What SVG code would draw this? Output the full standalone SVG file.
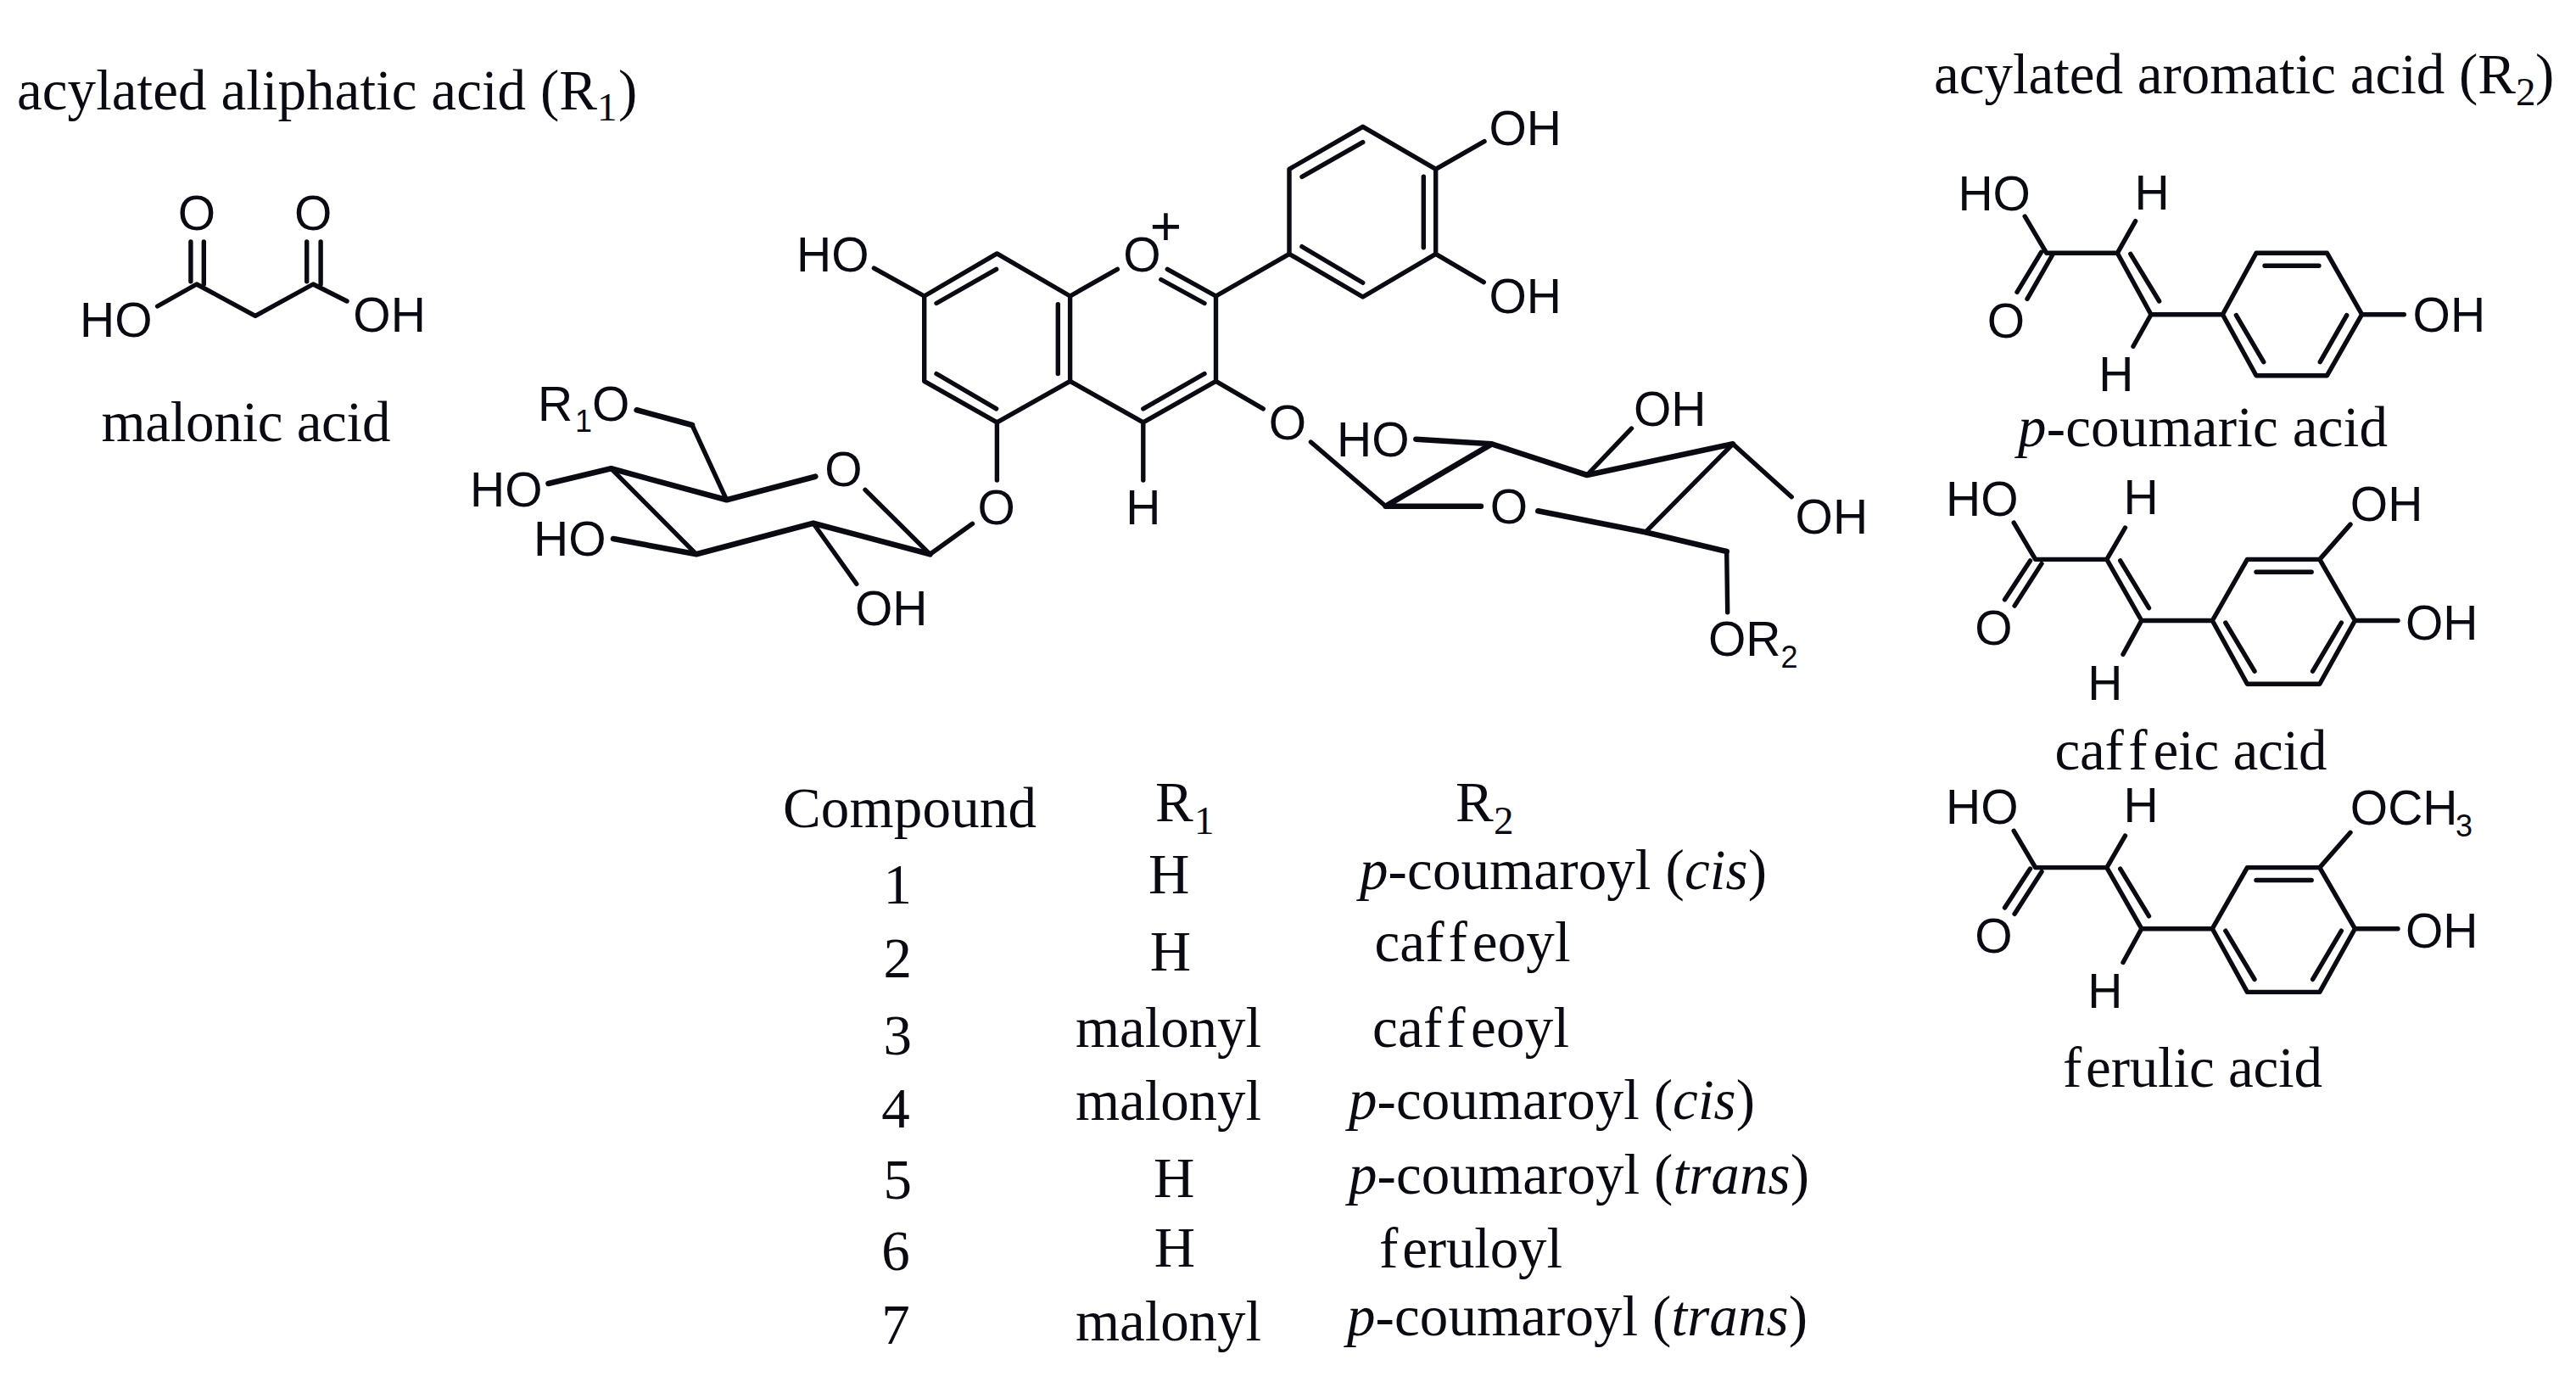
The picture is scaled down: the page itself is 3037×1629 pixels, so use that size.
<svg xmlns="http://www.w3.org/2000/svg" width="3037" height="1629" viewBox="0 0 3037 1629">
<style>
.b{fill:none;stroke:#0a0a12;stroke-width:5.4;stroke-linecap:round;stroke-linejoin:round}
.k{fill:none;stroke:#0a0a12;stroke-width:6.6;stroke-linecap:round;stroke-linejoin:round}
.a{font-family:"Liberation Sans",Arial,sans-serif;font-size:57px;fill:#0a0a12}
.as{font-family:"Liberation Sans",Arial,sans-serif;font-size:36px;fill:#0a0a12}
.am{font-family:"Liberation Sans",Arial,sans-serif;font-size:57px;fill:#0a0a12;text-anchor:middle}
.t{font-family:"Liberation Serif","Times New Roman",serif;font-size:67px;fill:#0a0a12;font-variant-ligatures:none}
.tm{font-family:"Liberation Serif","Times New Roman",serif;font-size:67px;fill:#0a0a12;text-anchor:middle}
.ts{font-family:"Liberation Serif","Times New Roman",serif;font-size:47px;fill:#0a0a12}
.i{font-style:italic}
</style>
<rect width="3037" height="1629" fill="#ffffff"/>

<g id="connectors">
<g id="bonds-core">
<path class="b" d="M1089.7 349L1175.4 298.9L1261.6 349L1261.6 449.3L1175.4 497.9L1089.7 449.3Z"/>
<path class="b" d="M1030.4 316.1L1089.7 349M1104 357.5L1174.6 317.3M1247.3 358.6V440.5M1104 440.5L1174.6 481.8"/>
<path class="b" d="M1261.6 349L1317.4 317.3M1376.3 317.3L1433.5 349L1520 299.3M1368.8 329.5L1420 357.5M1433.5 349V449.3L1347.8 497.9L1261.6 449.3M1347.8 481.8L1420 440.5M1433.5 449.3L1489.3 481.8M1175.4 497.9V566M1347.8 497.9V566"/>
<path class="b" d="M1520 199.3L1606.7 149.3L1692.7 199.3V299.3L1606.7 350L1520 299.3ZM1535 208.3L1606.7 167.7M1535 290.7L1606.7 333.3M1678.3 208.3V291.7M1692.7 199.3L1750 166.7M1692.7 299.3L1749.3 332.7"/>
</g>
<g id="bonds-sugar-left">
<path class="k" d="M750.6 483.3L816 501M646.5 570L720.5 552.3L856.7 589.3L961.3 561.7M723 635L821 653.3L958.8 616.7L1096.5 653.3"/>
<path class="b" d="M816 501L856.7 589.3M720.5 552.3L821 653.3M958.8 616.7L1009.8 688.3M1020 577.3L1096.5 653.3L1146.5 617.3"/>
</g>
<g id="bonds-sugar-right">
<path class="k" d="M1745.9 596.7H1633.7L1758.7 523.3L1871 560L2042.9 523.3M1669.4 517.7L1758.7 523.3M1813.3 602.3L1939.8 627.3L2035.7 650"/>
<path class="b" d="M1545.4 521L1633.7 596.7M1871 560L1923.5 505M2042.9 523.3L2112.2 585.7M2042.9 523.3L1939.8 627.3M2035.7 650L2036.7 721.7"/>
</g>
<g id="bonds-malonic">
<path class="b" d="M224.9 285V331.7M240.3 285V335M361.7 285V331.7M378.1 285V335M185.6 361L231.8 335L301 372.3L369.2 335L409 355"/>
</g>
<g id="bonds-coumaric">
<path class="b" d="M2387.2 255L2412.8 298.3H2496.3L2517.6 260.7M2496.3 298.3L2536 370.7H2620.4M2511.8 299.3L2545.6 355M2406.5 297.3L2378 344.3M2420 300L2390 352.3M2536 370.7L2515 408.3M2620.4 370.7L2660 298.3H2743.5L2784.6 370.7L2743.5 442.7H2660ZM2670 313.3H2733.9M2636.4 371.7L2668.7 426.7M2766.7 371.7L2735.3 426.7M2784.6 370.7H2834.3"/>
</g>
<g id="bonds-caffeic">
<path class="b" d="M2374.2 616.1L2399.7 659.4H2483.8L2505.5 622M2483.8 659.4L2524.8 731.5H2608.3M2499.7 660.9L2533.5 716.6M2393.5 660.9L2363.5 706.7M2407 664.4L2375.1 714.1M2524.8 731.5L2503 771.3M2608.3 731.5L2649.4 659.4H2734.8L2776.4 731.5L2734.8 806.2H2649.4ZM2660 674.3H2725.2M2623.8 734L2658 791.2M2760.4 734L2726.6 791.2M2734.8 659.4L2771 618.1M2776.4 731.5H2827"/>
</g>
<g id="bonds-ferulic" transform="translate(0 363.2)">
<path class="b" d="M2374.2 616.1L2399.7 659.4H2483.8L2505.5 622M2483.8 659.4L2524.8 731.5H2608.3M2499.7 660.9L2533.5 716.6M2393.5 660.9L2363.5 706.7M2407 664.4L2375.1 714.1M2524.8 731.5L2503 771.3M2608.3 731.5L2649.4 659.4H2734.8L2776.4 731.5L2734.8 806.2H2649.4ZM2660 674.3H2725.2M2623.8 734L2658 791.2M2760.4 734L2726.6 791.2M2734.8 659.4L2771 618.1M2776.4 731.5H2827"/>
</g>
</g>

<g id="node-core">
<text class="a" x="939" y="320">HO</text>
<text class="am" x="1346.4" y="320">O</text>
<text class="am" x="1374.5" y="289" style="font-size:64px">+</text>
<text class="a" x="1755.5" y="170.7">OH</text>
<text class="a" x="1755.5" y="369.3">OH</text>
<text class="am" x="1518" y="518">O</text>
<text class="am" x="1174.6" y="618">O</text>
<text class="am" x="1347.8" y="617.7">H</text>
</g>

<g id="node-sugar-left">
<text class="a" x="634" y="496">R</text><text class="as" x="678" y="509">1</text><text class="a" x="698" y="496">O</text>
<text class="a" x="554" y="596.7">HO</text>
<text class="a" x="629" y="655">HO</text>
<text class="a" x="1008" y="736.7">OH</text>
<text class="am" x="994.5" y="573">O</text>
</g>

<g id="node-sugar-right">
<text class="a" x="1576" y="537.7">HO</text>
<text class="a" x="1926" y="501.7">OH</text>
<text class="a" x="2116.6" y="629">OH</text>
<text class="am" x="1779" y="616.5">O</text>
<text class="a" x="2014" y="772.7">OR</text><text class="as" x="2099.5" y="786.7">2</text>
</g>

<g id="node-malonic">
<text class="t" x="20" y="129" textLength="684" lengthAdjust="spacing">acylated aliphatic acid (R</text>
<text class="ts" x="704" y="142">1</text>
<text class="t" x="729" y="129">)</text>
<text class="am" x="231.8" y="271">O</text>
<text class="am" x="369.2" y="271">O</text>
<text class="a" x="94" y="397.3">HO</text>
<text class="a" x="416.3" y="391">OH</text>
<text class="t" x="119.4" y="520" textLength="341" lengthAdjust="spacing">malonic acid</text>
</g>

<g id="node-coumaric">
<text class="t" x="2280" y="110" textLength="686" lengthAdjust="spacing">acylated aromatic acid (R</text>
<text class="ts" x="2966" y="124">2</text>
<text class="t" x="2989" y="110">)</text>
<text class="a" x="2308.4" y="248">HO</text>
<text class="am" x="2537" y="246.7">H</text>
<text class="am" x="2365" y="398.3">O</text>
<text class="am" x="2494.9" y="460.7">H</text>
<text class="a" x="2844.6" y="390.7">OH</text>
<text class="t" x="2379" y="526" textLength="436" lengthAdjust="spacing"><tspan class="i">p</tspan>-coumaric acid</text>
</g>

<g id="node-caffeic">
<text class="a" x="2294" y="608">HO</text>
<text class="am" x="2524" y="606">H</text>
<text class="am" x="2350.5" y="760">O</text>
<text class="am" x="2481.8" y="824.6">H</text>
<text class="a" x="2770.8" y="613.6">OH</text>
<text class="a" x="2836" y="753.9">OH</text>
<text class="t" x="2422.4" y="907" textLength="321" lengthAdjust="spacing">caf<tspan dx="7">f</tspan><tspan dx="7">eic</tspan> acid</text>
</g>

<g id="node-ferulic">
<text class="a" x="2294" y="971.2">HO</text>
<text class="am" x="2524" y="969.2">H</text>
<text class="am" x="2350.5" y="1123.2">O</text>
<text class="am" x="2481.8" y="1187.8">H</text>
<text class="a" x="2770.8" y="971.8">OCH</text><text class="as" x="2895" y="986">3</text>
<text class="a" x="2836" y="1117.1">OH</text>
<text class="t" x="2432" y="1281" textLength="306" lengthAdjust="spacing">f<tspan dx="5">erulic</tspan> acid</text>
</g>

<g id="node-table">
<text class="t" x="923" y="975" textLength="299" lengthAdjust="spacing">Compound</text>
<text class="t" x="1362" y="968">R</text><text class="ts" x="1408" y="982.6">1</text>
<text class="t" x="1716" y="968">R</text><text class="ts" x="1761" y="982.6">2</text>
<text class="tm" x="1058.3" y="1065.3">1</text>
<text class="tm" x="1058.3" y="1151.6">2</text>
<text class="tm" x="1058.3" y="1243.4">3</text>
<text class="tm" x="1056" y="1329.3">4</text>
<text class="tm" x="1058.3" y="1413.3">5</text>
<text class="tm" x="1056" y="1496.9">6</text>
<text class="tm" x="1056" y="1584">7</text>
<text class="tm" x="1378.3" y="1052.9">H</text>
<text class="tm" x="1380" y="1144.3">H</text>
<text class="t" x="1268" y="1234" textLength="219" lengthAdjust="spacing">malonyl</text>
<text class="t" x="1268" y="1320" textLength="219" lengthAdjust="spacing">malonyl</text>
<text class="tm" x="1384.2" y="1411">H</text>
<text class="tm" x="1385" y="1493.2">H</text>
<text class="t" x="1268" y="1580" textLength="219" lengthAdjust="spacing">malonyl</text>
<text class="t" x="1603" y="1048" textLength="480" lengthAdjust="spacing"><tspan class="i">p</tspan>-coumaroyl (<tspan class="i">cis</tspan>)</text>
<text class="t" x="1620.5" y="1133" textLength="231" lengthAdjust="spacing">caf<tspan dx="6">f</tspan><tspan dx="6">eoyl</tspan></text>
<text class="t" x="1618" y="1234" textLength="232" lengthAdjust="spacing">caf<tspan dx="6">f</tspan><tspan dx="6">eoyl</tspan></text>
<text class="t" x="1590" y="1319" textLength="479" lengthAdjust="spacing"><tspan class="i">p</tspan>-coumaroyl (<tspan class="i">cis</tspan>)</text>
<text class="t" x="1590" y="1407" textLength="543" lengthAdjust="spacing"><tspan class="i">p</tspan>-coumaroyl (<tspan class="i">trans</tspan>)</text>
<text class="t" x="1626" y="1494" textLength="216" lengthAdjust="spacing">f<tspan dx="5">eruloyl</tspan></text>
<text class="t" x="1588" y="1574" textLength="543" lengthAdjust="spacing"><tspan class="i">p</tspan>-coumaroyl (<tspan class="i">trans</tspan>)</text>
</g>
</svg>
